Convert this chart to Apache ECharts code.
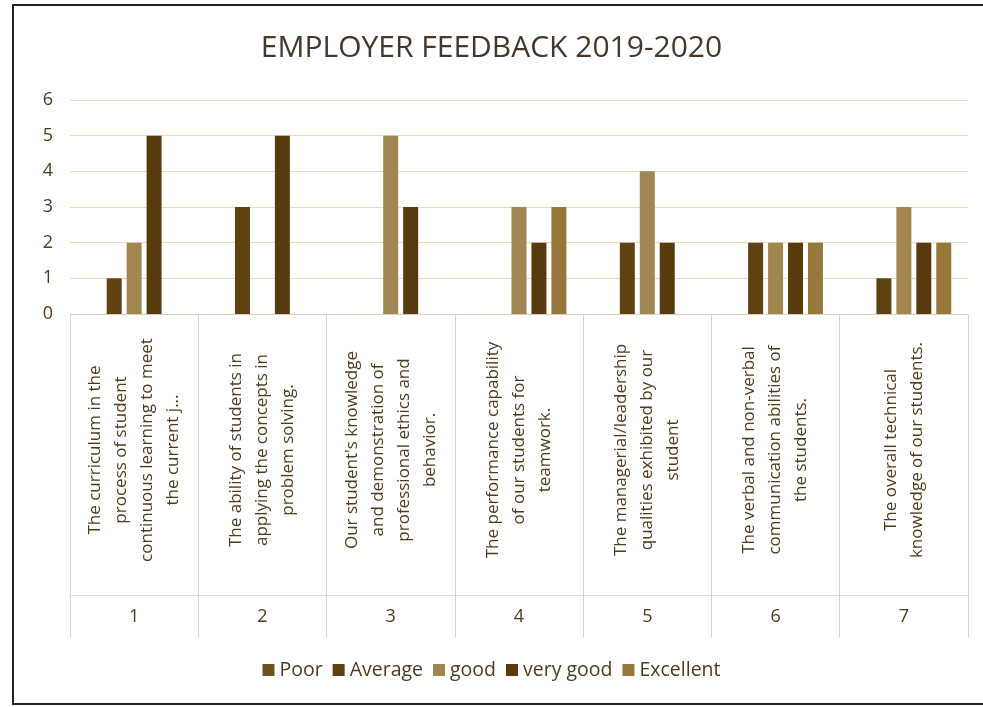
<!DOCTYPE html>
<html>
<head>
<meta charset="utf-8">
<script src="https://cdn.jsdelivr.net/npm/echarts@6/dist/echarts.min.js"></script>
<style>
html,body{margin:0;padding:0;background:#fff;}
#c{width:983px;height:707px;}
</style>
</head>
<body>
<div id="c"></div>
<script>
var categories = [
  "The curriculum in the\nprocess of student\ncontinuous learning to meet\nthe current j...",
  "The ability of students in\napplying the concepts in\nproblem solving.",
  "Our student's knowledge\nand demonstration of\nprofessional ethics and\nbehavior.",
  "The performance capability\nof our students for\nteamwork.",
  "The managerial/leadership\nqualities exhibited by our\nstudent",
  "The verbal and non-verbal\ncommunication abilities of\nthe students.",
  "The overall technical\nknowledge of our students."
];
var groupNumbers = ["1", "2", "3", "4", "5", "6", "7"];
var seriesNames = ["Poor", "Average", "good", "very good", "Excellent"];
var poor      = [0, 0, 0, 0, 0, 0, 0];
var average   = [1, 3, 0, 0, 2, 2, 1];
var good      = [2, 0, 5, 3, 4, 2, 3];
var veryGood  = [5, 5, 3, 2, 2, 2, 2];
var excellent = [0, 0, 0, 3, 0, 2, 2];
var yTicks = [0, 1, 2, 3, 4, 5, 6];

var colors = ['#6e5320', '#5f4112', '#a08650', '#583a0e', '#95783a'];
var values = [poor, average, good, veryGood, excellent];
var textColor = '#4e3b1d';
var font = "'Open Sans', 'Noto Sans', sans-serif";

var chart = echarts.init(document.getElementById('c'));
chart.setOption({
  backgroundColor: '#fff',
  color: colors,
  textStyle: { fontFamily: font },
  title: {
    text: 'EMPLOYER FEEDBACK 2019-2020',
    left: 'center',
    top: 28,
    textStyle: { fontSize: 30, fontWeight: 'normal', color: '#45372a', fontFamily: font }
  },
  legend: {
    data: seriesNames,
    top: 655,
    left: 'center',
    icon: 'rect',
    itemWidth: 12,
    itemHeight: 12,
    itemGap: 10,
    textStyle: { fontSize: 19.5, color: textColor }
  },
  grid: { left: 70, right: 15, top: 100, bottom: 393 },
  graphic: [{
    type: 'rect',
    silent: true,
    shape: { x: 13, y: 5, width: 1000, height: 699 },
    style: { fill: 'none', stroke: '#222', lineWidth: 2 }
  }],
  xAxis: [{
    type: 'category',
    data: categories,
    position: 'bottom',
    axisLine: { show: true, lineStyle: { color: '#d8cdb8', width: 1 } },
    axisTick: { show: true, length: 324, lineStyle: { color: '#ddd2bf', width: 1 } },
    axisLabel: {
      interval: 0,
      rotate: 90,
      align: 'center',
      verticalAlign: 'middle',
      margin: 136,
      fontSize: 17,
      lineHeight: 26,
      color: textColor
    },
    splitLine: { show: false }
  }, {
    type: 'category',
    data: groupNumbers,
    position: 'bottom',
    offset: 281,
    axisLine: { show: true, lineStyle: { color: '#e2dcd2', width: 1 } },
    axisTick: { show: false },
    axisLabel: { interval: 0, margin: 13, fontSize: 18, color: textColor }
  }],
  yAxis: {
    type: 'value',
    min: 0,
    max: 6,
    interval: 1,
    axisLine: { show: false },
    axisTick: { show: false },
    axisLabel: {
      fontSize: 18, color: textColor, margin: 17,
      formatter: function (v) { return yTicks.indexOf(v) >= 0 ? String(v) : ''; }
    },
    splitLine: { lineStyle: { color: '#e8dcbc', width: 1 } }
  },
  series: seriesNames.map(function (name, i) {
    return {
      name: name,
      type: 'bar',
      xAxisIndex: 0,
      data: values[i],
      barWidth: 15,
      barGap: '33%',
      itemStyle: { color: colors[i] }
    };
  })
});
</script>
</body>
</html>
